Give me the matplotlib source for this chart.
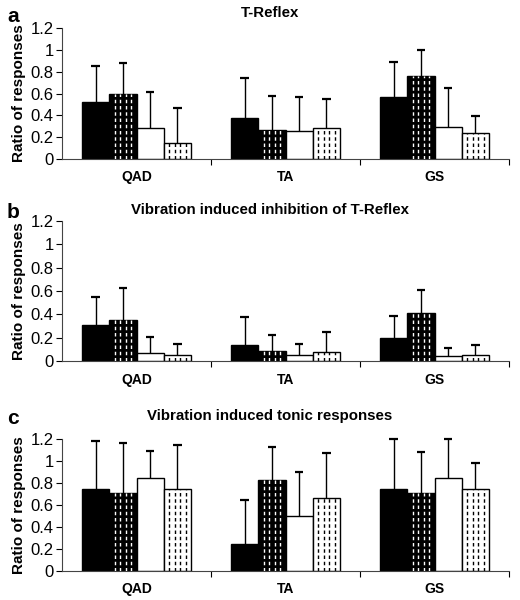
import numpy as np
import matplotlib.pyplot as plt

plt.rcParams['font.family'] = ['Liberation Sans', 'DejaVu Sans']

muscles = ['QAD', 'TA', 'GS']
yticks = [0, 0.2, 0.4, 0.6, 0.8, 1, 1.2]
yticklabels = ['0', '0.2', '0.4', '0.6', '0.8', '1', '1.2']

titles = ['T-Reflex', 'Vibration induced inhibition of T-Reflex',
          'Vibration induced tonic responses']
letters = ['a', 'b', 'c']

# 4 series per muscle: mean and top of error bar
a_mean = [[0.525, 0.595, 0.28, 0.145], [0.38, 0.27, 0.26, 0.28], [0.57, 0.76, 0.29, 0.24]]
a_top = [[0.855, 0.88, 0.61, 0.465], [0.745, 0.58, 0.57, 0.55], [0.89, 1.0, 0.65, 0.39]]
b_mean = [[0.31, 0.35, 0.07, 0.05], [0.14, 0.09, 0.05, 0.08], [0.20, 0.41, 0.04, 0.05]]
b_top = [[0.55, 0.63, 0.21, 0.15], [0.38, 0.22, 0.15, 0.25], [0.39, 0.61, 0.11, 0.14]]
c_mean = [[0.75, 0.71, 0.85, 0.75], [0.25, 0.83, 0.50, 0.66], [0.75, 0.71, 0.85, 0.75]]
c_top = [[1.18, 1.16, 1.09, 1.15], [0.65, 1.13, 0.90, 1.07], [1.20, 1.08, 1.20, 0.98]]

panels = [(a_mean, a_top), (b_mean, b_top), (c_mean, c_top)]

fig = plt.figure(figsize=(5.2, 6.0), dpi=100)
W, H = 520, 600
# axes boxes in pixels: (top of 1.2, y of 0)
boxes = [(28, 159), (221, 361), (439, 571)]
title_y = [13, 210, 416]
x0, x1 = 62, 509

bw = 0.183
offsets = (np.arange(4) - 1.5) * bw
face = ['black', 'black', 'white', 'white']
dash_col = [None, 'white', None, 'black']

for k, (means, tops) in enumerate(panels):
    top, bot = boxes[k]
    ax = fig.add_axes([x0 / W, 1 - bot / H, (x1 - x0) / W, (bot - top) / H])
    means = np.array(means)
    tops = np.array(tops)
    x = np.arange(len(muscles))
    for s in range(4):
        bars = ax.bar(x + offsets[s], means[:, s], width=bw, color=face[s],
                      edgecolor='black', linewidth=1.0, zorder=2)
        ax.vlines(x + offsets[s], means[:, s], tops[:, s], color='black', lw=1.0,
                  zorder=1, clip_on=False)
        ax.hlines(tops[:, s], x + offsets[s] - bw * 0.16, x + offsets[s] + bw * 0.16,
                  color='black', lw=1.6, zorder=1, clip_on=False)
        if dash_col[s]:
            for b in bars:
                bx, bwid, bh = b.get_x(), b.get_width(), b.get_height()
                for f in [0.2, 0.4, 0.6, 0.8]:
                    ln = ax.vlines(bx + f * bwid, 0, bh, color=dash_col[s], lw=1.0,
                                   linestyles=(0, (2.5, 2)), zorder=3)
                    ln.set_clip_path(b)
    ax.set_xlim(-0.5, 2.5)
    ax.set_ylim(0, 1.2)
    ax.set_yticks(yticks)
    ax.set_yticklabels(yticklabels, fontsize=12)
    ax.set_xticks([0.5, 1.5, 2.5])
    ax.set_xticklabels([])
    ax.tick_params(axis='x', length=4, direction='out')
    ax.tick_params(axis='y', length=4, direction='out', pad=2)
    for i, m in enumerate(muscles):
        ax.text(i, -0.1, m, transform=ax.transData, ha='center', va='top',
                fontsize=10, fontweight='bold')
    ax.spines['top'].set_visible(False)
    ax.spines['right'].set_visible(False)
    ax.spines['left'].set_color('#444444')
    ax.spines['bottom'].set_color('#444444')
    ax.set_ylabel('Ratio of responses', fontsize=11, fontweight='bold', labelpad=3)
    fig.text(270 / W, 1 - title_y[k] / H, titles[k], ha='center', va='center',
             fontsize=10.8, fontweight='bold')
    fig.text(7 / W, 1 - (title_y[k] + 3) / H, letters[k], ha='left', va='center',
             fontsize=15, fontweight='bold')

fig.savefig('out.png', dpi=100)
